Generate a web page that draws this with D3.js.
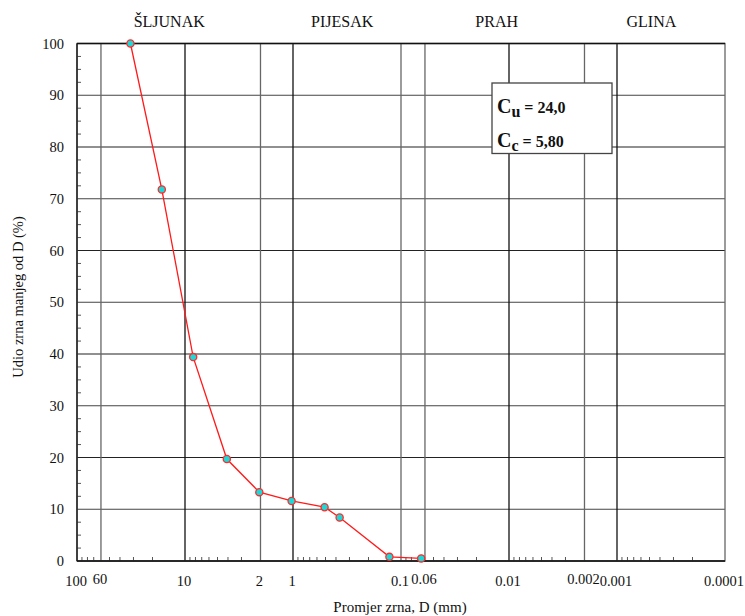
<!DOCTYPE html>
<html>
<head>
<meta charset="utf-8">
<script src="https://cdn.jsdelivr.net/npm/d3@7"></script>
<style>
  body { margin: 0; background: #fff; }
  svg text { font-family: "Liberation Serif", "DejaVu Serif", serif; fill: #111; }
</style>
</head>
<body>
<div id="chart"></div>
<script>
// sieve data: grain diameter (mm) and percent passing
var diameters = [32, 16.4, 8.4, 4.1, 2.05, 1.03, 0.51, 0.37, 0.128, 0.065];
var passing = [100, 71.8, 39.4, 19.7, 13.3, 11.6, 10.4, 8.4, 0.8, 0.5];

// axis ticks and grid
var xLabels = [100, 60, 10, 2, 1, 0.1, 0.06, 0.01, 0.002, 0.001, 0.0001];
var xRaised = [60, 0.06, 0.002];
var xGrid = [60, 10, 2, 1, 0.1, 0.06, 0.01, 0.002, 0.001];
var xGridDark = [10, 1, 0.01, 0.001];
var yTicks = [0, 10, 20, 30, 40, 50, 60, 70, 80, 90, 100];

// soil fractions above the plot
var sections = ["ŠLJUNAK", "PIJESAK", "PRAH", "GLINA"];
var sectionAt = [14, 0.35, 0.013, 0.00048];

var coefLabels = ["u", "c"];
var coefValues = ["24,0", "5,80"];

var W = 745, H = 616;
var margin = { top: 43.5, right: 20, bottom: 55, left: 77 };

var svg = d3.select("#chart").append("svg")
  .attr("width", W)
  .attr("height", H)
  .attr("font-family", "Liberation Serif, DejaVu Serif, serif");

var x = d3.scaleLog().domain([100, 0.0001]).range([margin.left, W - margin.right]);
var y = d3.scaleLinear().domain([0, 100]).range([H - margin.bottom, margin.top]);

var fmt = function (d) { return d >= 1 ? String(d) : d3.format("~f")(d); };

// horizontal grid
svg.append("g").selectAll("line")
  .data(yTicks)
  .enter().append("line")
  .attr("x1", x.range()[0]).attr("x2", x.range()[1])
  .attr("y1", (d) => y(d)).attr("y2", (d) => y(d))
  .attr("stroke", (d) => (d % 20 == 0 ? "#222" : "#444"))
  .attr("stroke-width", 1.2);

// vertical grid
svg.append("g").selectAll("line")
  .data(xGrid)
  .enter().append("line")
  .attr("x1", (d) => x(d)).attr("x2", (d) => x(d))
  .attr("y1", y(0)).attr("y2", y(100))
  .attr("stroke", (d) => (xGridDark.indexOf(d) >= 0 ? "#111" : "#666"))
  .attr("stroke-width", 1.3);

// minor ticks on x (2..9 of each decade), pointing up
var minor = [];
for (var e = -4; e < 2; e++) {
  for (var m = 2; m <= 9; m++) {
    var v = m * Math.pow(10, e);
    if (xGrid.indexOf(+v.toPrecision(6)) < 0) minor.push(v);
  }
}
svg.append("g").selectAll("line")
  .data(minor)
  .enter().append("line")
  .attr("x1", (d) => x(d)).attr("x2", (d) => x(d))
  .attr("y1", y(0)).attr("y2", y(0) - 4)
  .attr("stroke", "#555")
  .attr("stroke-width", 1);

// minor ticks on y every 2.5
var yMinor = d3.range(0, 100.1, 2.5).filter((d) => d % 10 != 0);
svg.append("g").selectAll("line")
  .data(yMinor)
  .enter().append("line")
  .attr("x1", x(100)).attr("x2", x(100) + 4)
  .attr("y1", (d) => y(d)).attr("y2", (d) => y(d))
  .attr("stroke", "#555")
  .attr("stroke-width", 1);

// frame
svg.append("rect")
  .attr("x", x(100)).attr("y", y(100))
  .attr("width", x(0.0001) - x(100))
  .attr("height", y(0) - y(100))
  .attr("fill", "none")
  .attr("stroke", "#666")
  .attr("stroke-width", 1.3);
svg.append("line")
  .attr("x1", x(100)).attr("x2", x(100))
  .attr("y1", y(0)).attr("y2", y(100))
  .attr("stroke", "#222").attr("stroke-width", 1.5);
svg.append("line")
  .attr("x1", x(100)).attr("x2", x(0.0001))
  .attr("y1", y(0)).attr("y2", y(0))
  .attr("stroke", "#111").attr("stroke-width", 1.5);
svg.append("line")
  .attr("x1", x(100)).attr("x2", x(0.0001))
  .attr("y1", y(100)).attr("y2", y(100))
  .attr("stroke", "#111").attr("stroke-width", 1.3);

// y labels
svg.append("g").selectAll("text")
  .data(yTicks)
  .enter().append("text")
  .attr("x", x(100) - 13)
  .attr("y", (d) => y(d) + 5)
  .attr("text-anchor", "end")
  .style("font-size", "14.5px")
  .text((d) => d);

// x labels
svg.append("g").selectAll("text")
  .data(xLabels)
  .enter().append("text")
  .attr("x", (d) => x(d) - 1)
  .attr("y", (d) => (xRaised.indexOf(d) >= 0 ? y(0) + 22.5 : y(0) + 24.5))
  .attr("text-anchor", "middle")
  .style("font-size", "14.5px")
  .text(fmt);

// section names
svg.append("g").selectAll("text")
  .data(sections)
  .enter().append("text")
  .attr("x", (d, i) => x(sectionAt[i]))
  .attr("y", 26.5)
  .attr("text-anchor", "middle")
  .style("font-size", "16px")
  .text((d) => d);

// axis titles
svg.append("text")
  .attr("x", 400)
  .attr("y", 612)
  .attr("text-anchor", "middle")
  .style("font-size", "15px")
  .text("Promjer zrna, D (mm)");

svg.append("text")
  .attr("transform", "translate(23," + 297 + ") rotate(-90)")
  .attr("text-anchor", "middle")
  .style("font-size", "14.5px")
  .text("Udio zrna manjeg od D (%)");

// curve
var pts = diameters.map((d, i) => [d, passing[i]]);
svg.append("path")
  .datum(pts)
  .attr("fill", "none")
  .attr("stroke", "#ff1a1a")
  .attr("stroke-width", 1.3)
  .attr("d", d3.line().x((d) => x(d[0])).y((d) => y(d[1])));

svg.append("g").selectAll("circle")
  .data(pts)
  .enter().append("circle")
  .attr("cx", (d) => x(d[0]))
  .attr("cy", (d) => y(d[1]))
  .attr("r", 3.6)
  .attr("fill", "#19d9d9")
  .attr("stroke", "#ff2a2a")
  .attr("stroke-width", 1.3);

// Cu / Cc box
var box = svg.append("g").attr("transform", "translate(492,83)");
box.append("rect")
  .attr("width", 120).attr("height", 70.5)
  .attr("fill", "#fff")
  .attr("stroke", "#444")
  .attr("stroke-width", 1.3);

box.selectAll("text.coef")
  .data(coefLabels)
  .enter().append("text")
  .attr("class", "coef")
  .attr("x", 5)
  .attr("y", (d, i) => 30 + i * 34)
  .style("font-weight", "bold")
  .each(function (d, i) {
    var t = d3.select(this);
    t.append("tspan").style("font-size", "20px").text("C");
    t.append("tspan").style("font-size", "16px").attr("dy", 4).text(d);
    t.append("tspan").style("font-size", "16px").attr("dy", -4).text(" = " + coefValues[i]);
  });
</script>
</body>
</html>
